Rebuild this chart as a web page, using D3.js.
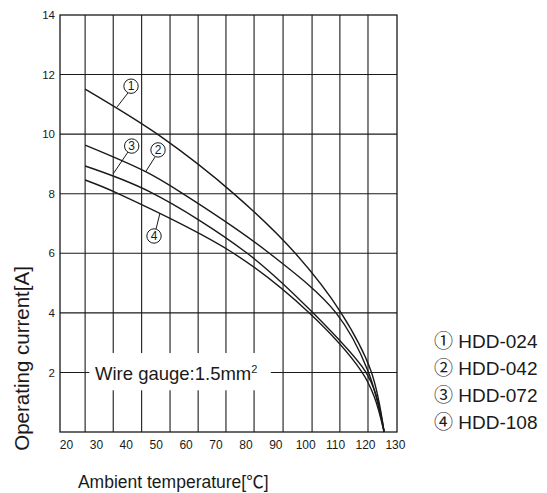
<!DOCTYPE html>
<html>
<head>
<meta charset="utf-8">
<script src="https://cdn.jsdelivr.net/npm/d3@7"></script>
<style>
  html, body { margin: 0; padding: 0; background: #fff; }
  svg { display: block; font-family: "Liberation Sans", Arial, "Noto Sans CJK JP", sans-serif; }
</style>
</head>
<body>
<svg id="chart" width="547" height="493"></svg>
<script>
// ---- data ----
const xTickLabels = [20, 30, 40, 50, 60, 70, 80, 90, 100, 110, 120, 130];
const yTickLabels = [2, 4, 6, 8, 10, 12, 14];
const gridXValues = [26.4, 35.8, 45.3, 54.8, 64.2, 73.5, 82.9, 92.6, 102.3, 111.6, 121.0];
const gridYValues = [2, 4, 6, 8, 10, 12];

const seriesNames = ["HDD-024", "HDD-042", "HDD-072", "HDD-108"];
const seriesMarks = ["①", "②", "③", "④"];

const hdd024T = [26.4, 51.4, 75.9, 96.6, 112.0, 122.0, 126.4];
const hdd024I = [11.51, 9.94, 8.02, 6.01, 4.00, 2.05, 0];

const hdd042T = [26.4, 46.8, 58.8, 87.9, 110.3, 121.0, 126.4];
const hdd042I = [9.63, 8.73, 8.02, 6.01, 4.00, 2.05, 0];

const hdd072T = [26.4, 48.1, 80.5, 102.6, 120.0, 123.7, 126.4];
const hdd072I = [8.93, 8.06, 6.01, 4.00, 2.05, 1.24, 0];

const hdd108T = [26.4, 37.1, 75.9, 101.3, 118.7, 123.0, 126.4];
const hdd108I = [8.46, 8.02, 6.01, 4.00, 2.05, 1.21, 0];

// ---- layout ----
const svg = d3.select("#chart");
const mLeft = 60, mRight = 397, mTop = 15, mBottom = 432;

const x = d3.scaleLinear().domain([18, 130.7]).range([mLeft, mRight]);
const y = d3.scaleLinear().domain([0, 14]).range([mBottom, mTop]);

const ink = "#1a1a1a";

// grid
const g = svg.append("g");
g.selectAll("line.gx").data(gridXValues).join("line").attr("class", "gx")
  .attr("x1", d => x(d)).attr("x2", d => x(d))
  .attr("y1", y(0)).attr("y2", y(14))
  .attr("stroke", ink).attr("stroke-width", 1.1);
g.selectAll("line.gy").data(gridYValues).join("line").attr("class", "gy")
  .attr("x1", mLeft).attr("x2", mRight)
  .attr("y1", d => y(d)).attr("y2", d => y(d))
  .attr("stroke", ink).attr("stroke-width", 1.1);

// frame
svg.append("rect")
  .attr("x", mLeft).attr("y", mTop)
  .attr("width", mRight - mLeft).attr("height", mBottom - mTop)
  .attr("fill", "none").attr("stroke", ink).attr("stroke-width", 1.3);

// curves
const series = [
  { name: seriesNames[0], t: hdd024T, i: hdd024I },
  { name: seriesNames[1], t: hdd042T, i: hdd042I },
  { name: seriesNames[2], t: hdd072T, i: hdd072I },
  { name: seriesNames[3], t: hdd108T, i: hdd108I }
];
const line = d3.line().x(d => x(d[0])).y(d => y(d[1])).curve(d3.curveCatmullRom.alpha(0.5));
svg.append("g").selectAll("path").data(series).join("path")
  .attr("d", s => line(s.t.map((t, k) => [t, s.i[k]])))
  .attr("fill", "none").attr("stroke", ink).attr("stroke-width", 1.4);

// wire gauge note with white background
const note = svg.append("g");
note.append("rect")
  .attr("x", x(27.8)).attr("y", y(2.65))
  .attr("width", x(88.5) - x(27.8)).attr("height", y(1.4) - y(2.65))
  .attr("fill", "#fff");
const noteText = note.append("text")
  .attr("x", x(29.7)).attr("y", y(2) + 8)
  .attr("font-size", 18.5).attr("fill", ink)
  .text("Wire gauge:1.5mm");
noteText.append("tspan").attr("font-size", 11).attr("dy", -7).text("2");

// axes
const yAxis = d3.axisLeft(y).tickValues(yTickLabels).tickSize(0).tickPadding(5);
const ya = svg.append("g").attr("transform", `translate(${mLeft},0)`).call(yAxis);
ya.select(".domain").remove();
ya.selectAll("text").attr("font-size", 11.5).attr("fill", ink)
  .attr("font-family", "Liberation Sans, Arial, sans-serif");

const xAxis = d3.axisBottom(x).tickValues(xTickLabels).tickSize(0).tickPadding(8);
const xa = svg.append("g").attr("transform", `translate(0,${mBottom})`).call(xAxis);
xa.select(".domain").remove();
xa.selectAll("text").attr("font-size", 12).attr("fill", ink)
  .attr("font-family", "Liberation Sans, Arial, sans-serif");

// axis titles
svg.append("text")
  .attr("transform", `translate(29,${y(2.47)}) rotate(-90)`)
  .attr("text-anchor", "middle")
  .attr("font-size", 20.5).attr("fill", ink)
  .text("Operating current[A]");
svg.append("text")
  .attr("x", x(24)).attr("y", 488)
  .attr("font-size", 17.5).attr("fill", ink)
  .text("Ambient temperature[℃]");

// curve labels (circled numbers with leaders)
const callouts = [
  { k: 0, c: [41.75, 11.61], a: [40.7, 11.38], b: [37.06, 10.91] },
  { k: 1, c: [50.78, 9.47], a: [49.77, 9.23], b: [46.66, 8.74] },
  { k: 2, c: [41.98, 9.60], a: [40.74, 9.40], b: [35.73, 8.66] },
  { k: 3, c: [49.44, 6.58], a: [50.1, 6.81], b: [51.44, 7.35] }
];
const cg = svg.append("g");
cg.selectAll("line").data(callouts).join("line")
  .attr("x1", d => x(d.a[0])).attr("y1", d => y(d.a[1]))
  .attr("x2", d => x(d.b[0])).attr("y2", d => y(d.b[1]))
  .attr("stroke", ink).attr("stroke-width", 1);
cg.selectAll("circle").data(callouts).join("circle")
  .attr("cx", d => x(d.c[0])).attr("cy", d => y(d.c[1])).attr("r", 7.2)
  .attr("fill", "#fff").attr("stroke", ink).attr("stroke-width", 1);
cg.selectAll("text").data(callouts).join("text")
  .attr("x", d => x(d.c[0])).attr("y", d => y(d.c[1]) + 4.2)
  .attr("text-anchor", "middle").attr("font-size", 12).attr("fill", ink)
  .text(d => d.k + 1);

// legend
const lg = svg.append("g").attr("transform", "translate(434,0)");
lg.selectAll("text").data(seriesNames).join("text")
  .attr("x", 0).attr("y", (d, k) => 348 + k * 27)
  .attr("font-size", 19).attr("fill", ink)
  .text((d, k) => seriesMarks[k] + " " + d);
</script>
</body>
</html>
